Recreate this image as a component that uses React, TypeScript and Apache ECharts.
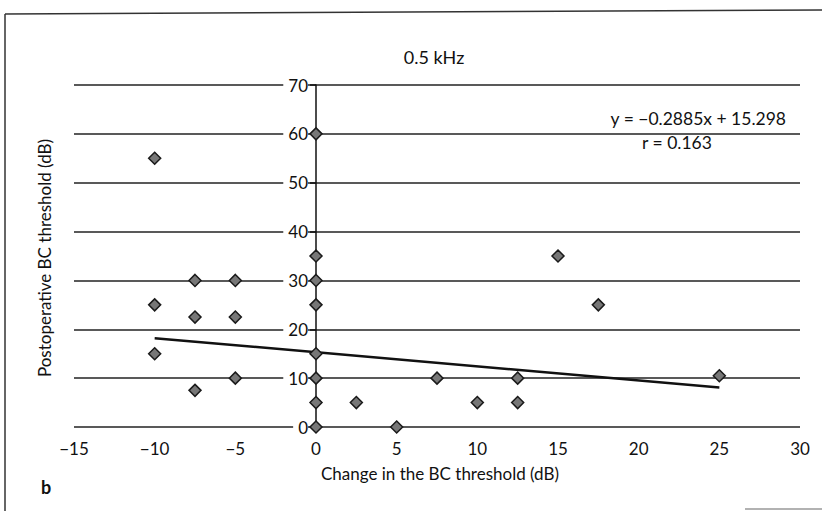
import React, { useEffect, useRef } from "react";
import * as echarts from "echarts";

const xTicks = [-15, -10, -5, 0, 5, 10, 15, 20, 25, 30];
const yTicks = [0, 10, 20, 30, 40, 50, 60, 70];

const points: [number, number][] = [
  [-10, 55], [-10, 25], [-10, 15],
  [-7.5, 30], [-7.5, 22.5], [-7.5, 7.5],
  [-5, 30], [-5, 22.5], [-5, 10],
  [0, 60], [0, 35], [0, 30], [0, 25], [0, 15], [0, 10], [0, 5], [0, 0],
  [2.5, 5], [5, 0], [7.5, 10], [10, 5], [12.5, 10], [12.5, 5],
  [15, 35], [17.5, 25], [25, 10.5],
];

const trendLine: [number, number][] = [[-10, 18.18], [25, 8.09]];

const titleText = "0.5 kHz";
const equationText = "y = \u22120.2885x + 15.298";
const rText = "r = 0.163";
const xName = "Change in the BC threshold (dB)";
const yName = "Postoperative BC threshold (dB)";
const panelLabel = "b";

const FONT = "Lato";
const GRID_LEFT = 74;
const GRID_RIGHT = 22;
const W = 822;

export default function App() {
  const ref = useRef<HTMLDivElement>(null);
  useEffect(() => {
    if (!ref.current) return;
    const chart = echarts.init(ref.current, null, { renderer: "svg" });
    const xMin = xTicks[0];
    const xMax = xTicks[xTicks.length - 1];
    const plotW = W - GRID_LEFT - GRID_RIGHT;
    const zeroOffset = ((0 - xMin) / (xMax - xMin)) * plotW;
    chart.setOption({
      animation: false,
      backgroundColor: "#ffffff",
      textStyle: { fontFamily: FONT },
      grid: { left: GRID_LEFT, right: GRID_RIGHT, top: 85, bottom: 84, containLabel: false },
      xAxis: {
        type: "value",
        min: xMin,
        max: xMax,
        interval: 5,
        axisLine: { show: false },
        axisTick: { show: false },
        splitLine: { show: false },
        axisLabel: {
          color: "#111",
          fontSize: 17,
          fontFamily: FONT,
          margin: 13,
          formatter: (v: number) => (v < 0 ? "\u2212" + Math.abs(v) : String(v)),
        },
      },
      yAxis: {
        type: "value",
        position: "left",
        offset: -zeroOffset,
        min: yTicks[0],
        max: yTicks[yTicks.length - 1],
        interval: 10,
        axisLine: { show: true, onZero: false, lineStyle: { color: "#111", width: 1.5 } },
        axisTick: { show: true, length: 6, lineStyle: { color: "#111", width: 1.5 } },
        splitLine: { show: true, lineStyle: { color: "#222", width: 1.5 } },
        axisLabel: {
          color: "#111",
          fontSize: 17,
          fontFamily: FONT,
          margin: 8,
          backgroundColor: "#ffffff",
          padding: [0, 0, 0, 5],
        },
      },
      series: [
        {
          type: "line",
          data: trendLine,
          symbol: "none",
          lineStyle: { color: "#111", width: 2.5 },
          z: 3,
        },
        {
          type: "scatter",
          data: points,
          symbol: "diamond",
          symbolSize: 12,
          itemStyle: { color: "#777777", borderColor: "#1a1a1a", borderWidth: 1.5, opacity: 1 },
          z: 4,
        },
      ],
      graphic: [
        { type: "line", shape: { x1: 5, y1: 14, x2: 5, y2: 511 }, style: { stroke: "#333", lineWidth: 1.5 } },
        { type: "line", shape: { x1: 5, y1: 14, x2: 822, y2: 10 }, style: { stroke: "#333", lineWidth: 1.5 } },
        { type: "line", shape: { x1: 745, y1: 509, x2: 822, y2: 509 }, style: { stroke: "#999", lineWidth: 1.5 } },
        {
          type: "text", x: 434, y: 57,
          style: { text: titleText, fontSize: 18, fontFamily: FONT, fill: "#111", align: "center", verticalAlign: "middle" },
        },
        {
          type: "text", x: 786, y: 118,
          style: { text: equationText, fontSize: 17.5, fontFamily: FONT, fill: "#111", align: "right", verticalAlign: "middle" },
        },
        {
          type: "text", x: 677, y: 142,
          style: { text: rText, fontSize: 17.5, fontFamily: FONT, fill: "#111", align: "center", verticalAlign: "middle" },
        },
        {
          type: "text", x: 440, y: 473,
          style: { text: xName, fontSize: 17, fontFamily: FONT, fill: "#111", align: "center", verticalAlign: "middle" },
        },
        {
          type: "text", x: 44, y: 258, rotation: Math.PI / 2,
          style: { text: yName, fontSize: 17, fontFamily: FONT, fill: "#111", align: "center", verticalAlign: "middle" },
        },
        {
          type: "text", x: 46, y: 487,
          style: { text: panelLabel, fontSize: 18, fontWeight: "bold", fontFamily: FONT, fill: "#111", align: "center", verticalAlign: "middle" },
        },
      ],
    });
    return () => chart.dispose();
  }, []);
  return <div ref={ref} style={{ position: "fixed", left: 0, top: 0, width: 822, height: 511 }} />;
}
